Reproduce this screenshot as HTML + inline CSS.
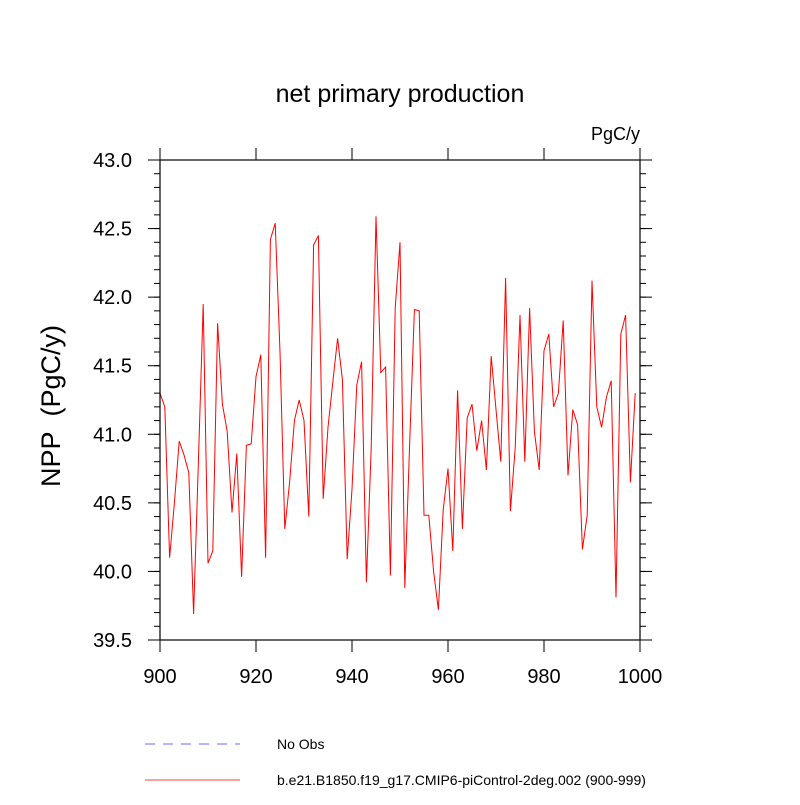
<!DOCTYPE html>
<html><head><meta charset="utf-8"><style>
body{margin:0;background:#fff;}
svg text{font-family:"Liberation Sans",sans-serif;}
</style></head><body>
<svg id="c" width="800" height="800" xmlns="http://www.w3.org/2000/svg">
<text x="400" y="102" text-anchor="middle" font-size="25">net primary production</text>
<text x="640" y="140" text-anchor="end" font-size="18">PgC/y</text>
<text transform="translate(60,406) rotate(-90)" text-anchor="middle" font-size="27">NPP&#160;&#160;(PgC/y)</text>
<g id="axes"></g>
<polyline id="series" fill="none" stroke="#ff0000" stroke-width="1"/>
<rect x="160" y="160" width="480" height="480" fill="none" stroke="#000" stroke-width="1.2"/>
<g>
<line x1="145" y1="744" x2="240" y2="744" stroke="#6a6aff" stroke-dasharray="10,8"/>
<text x="277" y="749" font-size="14">No Obs</text>
<line x1="145" y1="780" x2="240" y2="780" stroke="#ff0000" stroke-width="0.8"/>
<text x="277" y="785" font-size="14">b.e21.B1850.f19_g17.CMIP6-piControl-2deg.002 (900-999)</text>
</g>
</svg>
<script>
const startYear = 900;
const nppValues = [41.3,41.2,40.1,40.5,40.95,40.85,40.72,39.69,40.8,41.95,
40.06,40.15,41.81,41.22,41.02,40.43,40.86,39.96,40.92,40.93,
41.42,41.58,40.1,42.42,42.54,41.6,40.31,40.65,41.1,41.25,
41.1,40.4,42.38,42.45,40.53,41.05,41.38,41.7,41.4,40.09,
40.6,41.36,41.53,39.92,40.9,42.59,41.45,41.49,39.97,41.92,
42.4,39.88,40.92,41.91,41.9,40.41,40.41,40.0,39.72,40.45,
40.75,40.15,41.32,40.31,41.12,41.22,40.88,41.1,40.74,41.57,
41.18,40.8,42.14,40.44,40.9,41.87,40.8,41.92,41.02,40.74,
41.61,41.73,41.2,41.3,41.83,40.7,41.18,41.07,40.16,40.41,
42.12,41.2,41.05,41.27,41.39,39.81,41.73,41.87,40.65,41.3];
const xTicks = [900,920,940,960,980,1000];
const yTicks = [39.5,40.0,40.5,41.0,41.5,42.0,42.5,43.0];
const xMin=900,xMax=1000,yMin=39.5,yMax=43.0;
const L=160,R=640,T=160,B=640;
const sx=v=>L+(v-xMin)/(xMax-xMin)*(R-L);
const sy=v=>B-(v-yMin)/(yMax-yMin)*(B-T);
const NS="http://www.w3.org/2000/svg";
const ax=document.getElementById('axes');
function ln(x1,y1,x2,y2,name){const l=document.createElementNS(NS,'line');
l.setAttribute('x1',x1);l.setAttribute('y1',y1);l.setAttribute('x2',x2);l.setAttribute('y2',y2);
l.setAttribute('stroke','#000');l.setAttribute('stroke-width','1');


ax.appendChild(l);}
function tx(x,y,s,anchor,name){const t=document.createElementNS(NS,'text');
t.setAttribute('x',x);t.setAttribute('y',y);t.setAttribute('font-size','20');t.setAttribute('text-anchor',anchor);t.textContent=s;


ax.appendChild(t);}
xTicks.forEach(v=>{const x=sx(v);ln(x,T,x,T-12,'x-tick-top');ln(x,B,x,B+12,'x-tick-bottom');tx(x,B+43,String(v),'middle','x-tick-label');});
yTicks.forEach(v=>{const y=sy(v);ln(L,y,L-12,y,'y-tick-left');ln(R,y,R+12,y,'y-tick-right');tx(L-28,y+7,v.toFixed(1),'end','y-tick-label');});
for(let v=yMin;v<yMax-1e-6;v+=0.1){const y=sy(v);ln(L,y,L-6,y,'y-minor-tick');ln(R,y,R+6,y,'y-minor-tick');}
document.getElementById('series').setAttribute('points',nppValues.map((v,i)=>sx(startYear+i)+','+sy(v)).join(' '));
</script>
</body></html>
